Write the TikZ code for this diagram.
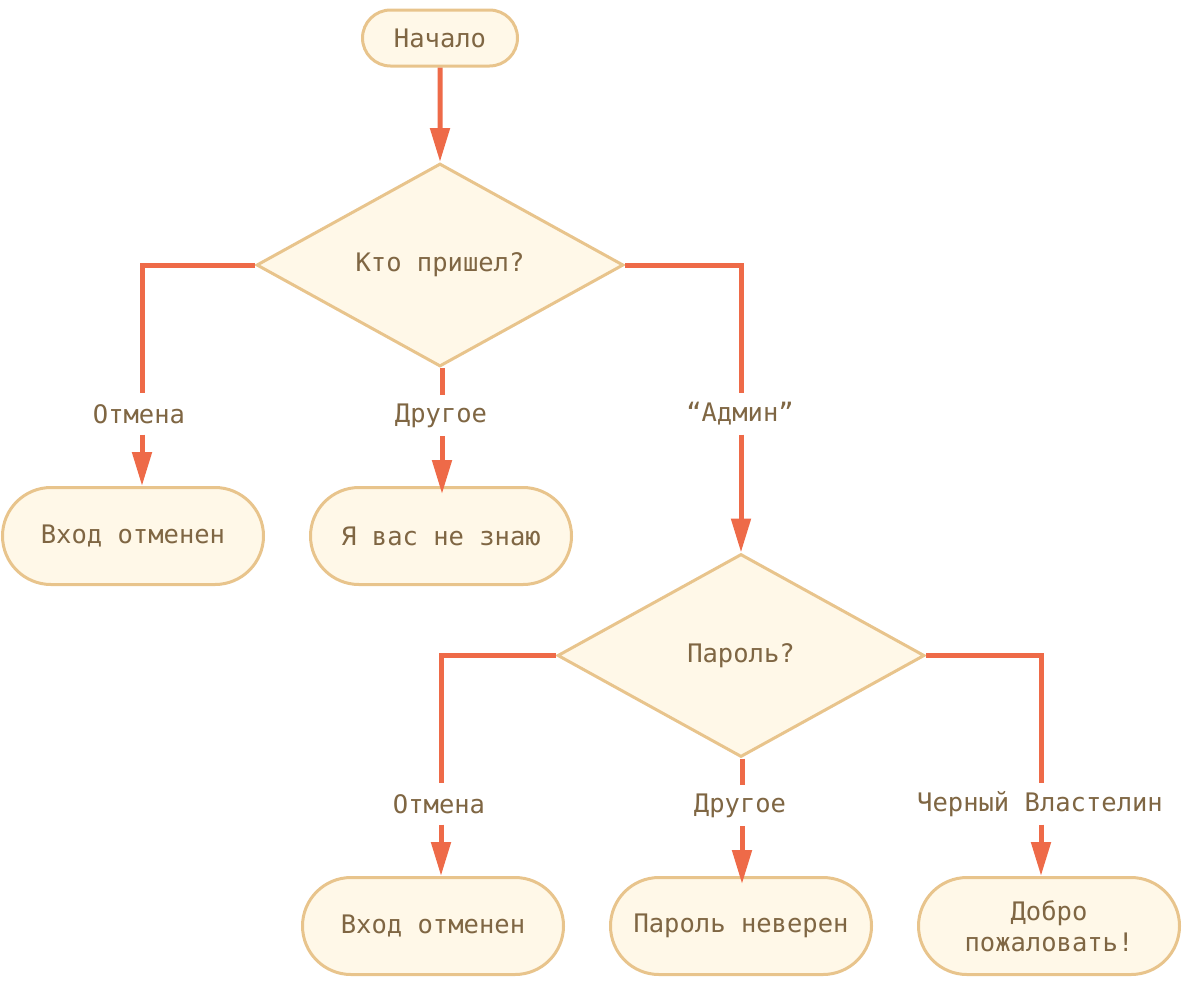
\documentclass[tikz,border=0pt]{standalone}
\usepackage{fontspec}
\setmainfont{DejaVu Sans Mono}
\usepackage{tikz}
\usetikzlibrary{arrows.meta}
\usetikzlibrary{calc,positioning,shapes.geometric,shapes.misc}

\definecolor{boxfill}{HTML}{FFF8E8}
\definecolor{boxline}{HTML}{E8C48C}
\definecolor{flowline}{HTML}{EE6A48}
\definecolor{txt}{HTML}{7F6643}

\begin{document}
\begin{tikzpicture}[x=1pt, y=1pt, >={Triangle[length=34pt,width=19pt]},
        term/.style={rounded rectangle, draw=boxline, fill=boxfill, line width=3pt,
            minimum width=278pt, minimum height=97pt, text=txt, align=center},
        ask/.style={diamond, draw=boxline, fill=boxfill, line width=3pt, inner sep=0pt,
            minimum width=367pt, minimum height=203pt, text=txt},
        lbl/.style={fill=white, text=txt, inner sep=2pt, minimum height=41pt},
        flow/.style={draw=flowline, line width=5pt}]
        \fontsize{25.5}{31}\selectfont
        \useasboundingbox (0,0) rectangle (1198,-986);

        \node[term, minimum width=172pt, minimum height=56pt] (start) at (440,-38) {Начало};
        \node[ask] (who) at (440,-265) {Кто пришел?};
        \node[term] (cancelA) at (133,-536) {Вход отменен};
        \node[term] (unknown) at (441,-536) {Я вас не знаю};
        \node[ask] (pass) at (741,-655.5) {Пароль?};
        \node[term] (cancelB) at (433,-926) {Вход отменен};
        \node[term] (wrong) at (741,-926) {Пароль неверен};
        \node[term] (welcome) at (1049,-926) {Добро\\пожаловать!};

        % first question
        \draw[flow, ->] (start) -- (who);
        \node[lbl] (l1) at (139,-414) {Отмена};
        \node[lbl] (l2) at (441,-415.5) {Другое};
        \node[lbl] (l3) at (740,-414) {“Админ”};
        \draw[flow] (who.west) -| ([xshift=3pt]l1.north);
        \draw[flow, ->] ([xshift=3pt]l1.south) -- ([xshift=3pt]l1 |- cancelA.north);
        \draw[flow] ([xshift=1pt]l2 |- who.south) -- ([xshift=1pt]l2.north);
        \draw[flow, ->] ([xshift=1pt]l2.south) -- ($(l2 |- unknown.north)+(1,-8)$);
        \draw[flow] (who.east) -| (pass.north |- l3.north);
        \draw[flow, ->] (pass.north |- l3.south) -- (pass.north);

        % password
        \node[lbl] (l4) at (439,-804) {Отмена};
        \node[lbl] (l5) at (740,-805.5) {Другое};
        \node[lbl] (l6) at (1040,-804) {Черный Властелин};
        \draw[flow] (pass.west) -| ([xshift=2pt]l4.north);
        \draw[flow, ->] ([xshift=2pt]l4.south) -- ([xshift=2pt]l4 |- cancelB.north);
        \draw[flow] ([xshift=2pt]l5 |- pass.south) -- ([xshift=2pt]l5.north);
        \draw[flow, ->] ([xshift=2pt]l5.south) -- ($(l5 |- wrong.north)+(2,-8)$);
        \draw[flow] (pass.east) -| ([xshift=1pt]l6.north);
        \draw[flow, ->] ([xshift=1pt]l6.south) -- ([xshift=1pt]l6 |- welcome.north);
    \end{tikzpicture}
\end{document}
